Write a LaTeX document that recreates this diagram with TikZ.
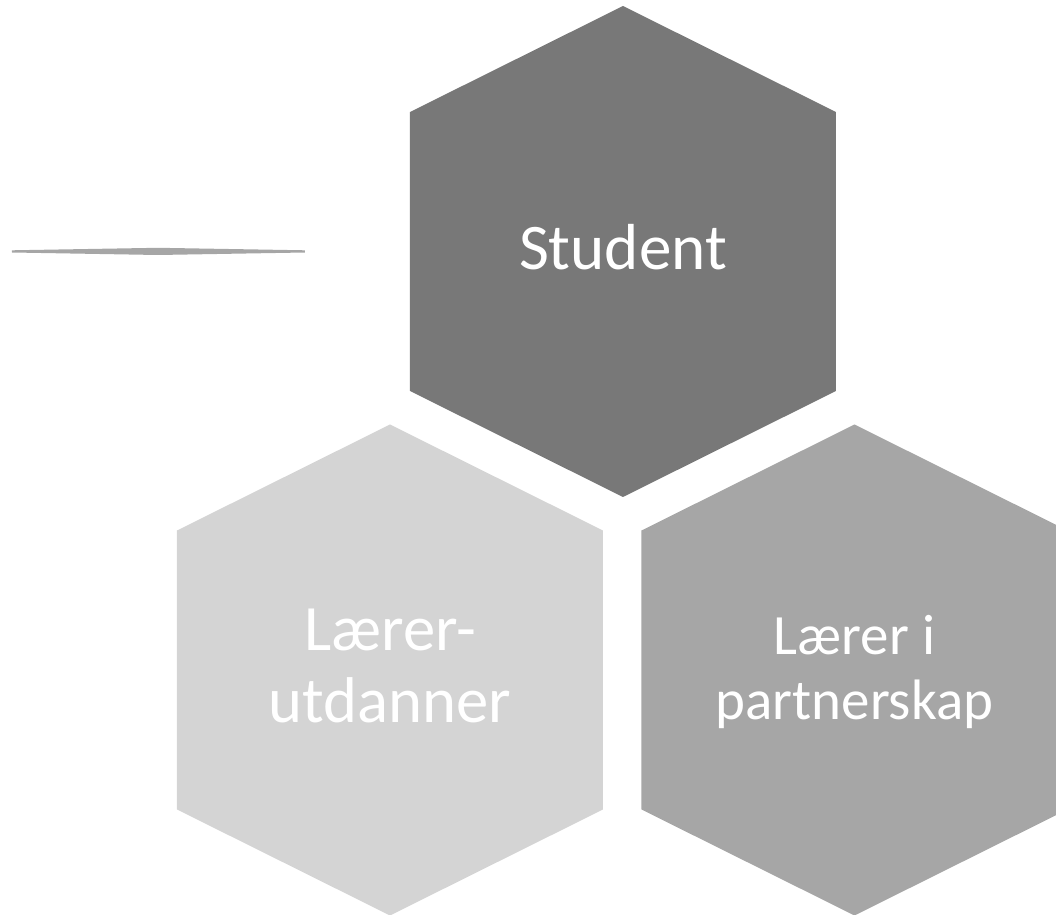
\documentclass[tikz,border=0pt]{standalone}
\usepackage{fontspec}
\setmainfont{Carlito}
\usepackage{xcolor}
\usepackage{tikz}

\definecolor{hexdark}{gray}{0.47}
\definecolor{hexmid}{gray}{0.65}
\definecolor{hexlight}{gray}{0.83}
\definecolor{linegray}{gray}{0.65}

\begin{document}
\begin{tikzpicture}[
  x=0.01cm, y=-0.01cm,
  every node/.style={text=white, align=center, inner sep=0pt, anchor=base},
  bigtext/.style={font=\fontsize{18.5}{21}\selectfont},
  midtext/.style={font=\fontsize{18.4}{20.5}\selectfont},
  smalltext/.style={font=\fontsize{16.2}{18.5}\selectfont}
]
\useasboundingbox (0,0) rectangle (1056,915);
\clip (0,0) rectangle (1056,915);
\foreach \cx/\cy/\shade in {623/251.5/hexdark, 390/670/hexlight, 854.5/670/hexmid}{
  \fill[\shade] (\cx,\cy) ++(0,-245.5) -- ++(213,106) -- ++(0,279)
    -- ++(-213,106) -- ++(-213,-106) -- ++(0,-279) -- cycle;
}
\fill[linegray] (12,250.3) -- (158,247.8) -- (305,250.3) -- (305,252.5)
  -- (158,255) -- (12,252.5) -- cycle;
\node[bigtext] (student) at (623,270) {Student};
\node[midtext] (utdanner) at (390,723) {Lærer-\\utdanner};
\node[smalltext] (partner) at (854.5,720) {Lærer i\\partnerskap};
\end{tikzpicture}
\end{document}
